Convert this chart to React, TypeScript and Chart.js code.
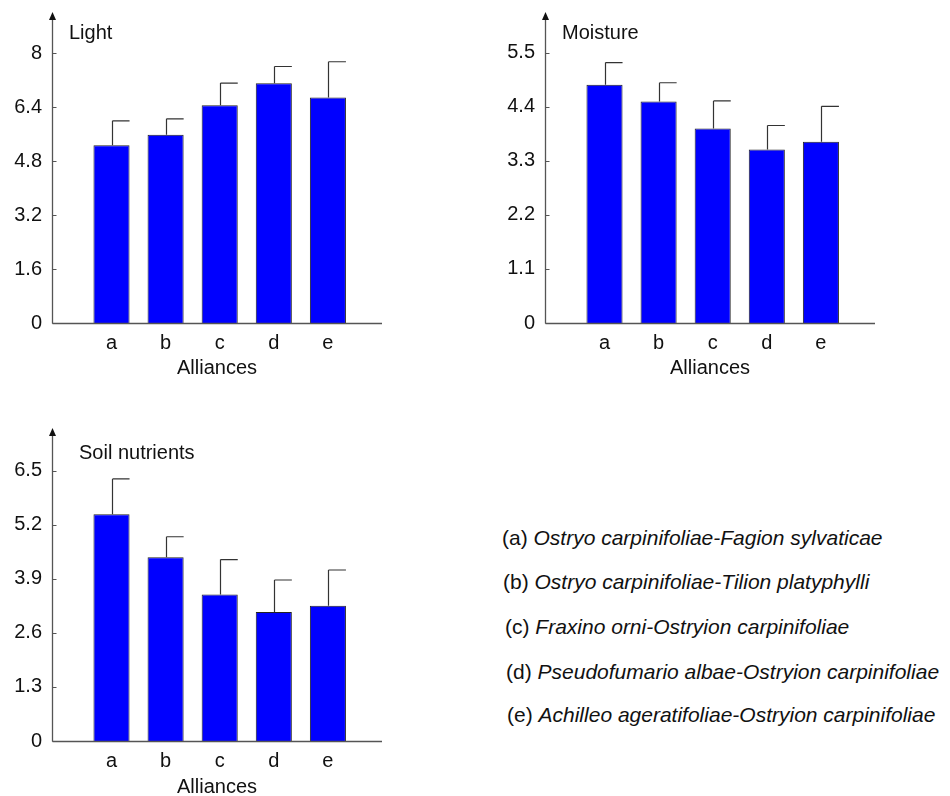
import React, { useEffect, useRef } from 'react';
import { Chart, registerables } from 'chart.js';

Chart.register(...registerables);

// ---------------- Data ----------------
const categories = ['a', 'b', 'c', 'd', 'e'];

const lightMeans = [5.27, 5.58, 6.45, 7.1, 6.68];
const lightSD = [0.72, 0.47, 0.66, 0.5, 1.06];
const lightTicks = [0, 1.6, 3.2, 4.8, 6.4, 8];

const moistureMeans = [4.85, 4.51, 3.96, 3.53, 3.69];
const moistureSD = [0.45, 0.38, 0.56, 0.49, 0.72];
const moistureTicks = [0, 1.1, 2.2, 3.3, 4.4, 5.5];

const soilMeans = [5.45, 4.42, 3.52, 3.1, 3.25];
const soilSD = [0.85, 0.49, 0.84, 0.77, 0.86];
const soilTicks = [0, 1.3, 2.6, 3.9, 5.2, 6.5];

const legendCodes = ['(a)', '(b)', '(c)', '(d)', '(e)'];
const legendNames = [
  'Ostryo carpinifoliae-Fagion sylvaticae',
  'Ostryo carpinifoliae-Tilion platyphylli',
  'Fraxino orni-Ostryion carpinifoliae',
  'Pseudofumario albae-Ostryion carpinifoliae',
  'Achilleo ageratifoliae-Ostryion carpinifoliae',
];

// ---------------- Styles ----------------
const FONT = "'Liberation Sans', Arial, Helvetica, sans-serif";
const TEXT = '#111';
const AXIS = '#555';
const BAR = '#0000ff';

const panelPlugin = {
  id: 'panelDecor',
  afterDatasetsDraw(chart: any, _args: any, opts: any) {
    const ctx = chart.ctx;
    const { left, right, top, bottom } = chart.chartArea;
    const meta = chart.getDatasetMeta(0);
    const y = chart.scales.y;
    ctx.save();
    // error bars (upper, half cap to the right)
    ctx.strokeStyle = '#333';
    ctx.lineWidth = 1.2;
    meta.data.forEach((bar: any, i: number) => {
      const yTop = y.getPixelForValue(opts.means[i] + opts.sds[i]);
      const x = Math.round(bar.x) + 0.5;
      ctx.beginPath();
      ctx.moveTo(x, bar.y);
      ctx.lineTo(x, yTop);
      ctx.moveTo(x, yTop);
      ctx.lineTo(bar.x + bar.width / 2, yTop);
      ctx.stroke();
    });
    // axes
    const lx = Math.round(left) + 0.5;
    const by = Math.round(bottom) + 0.5;
    ctx.strokeStyle = AXIS;
    ctx.lineWidth = 1.3;
    ctx.beginPath();
    ctx.moveTo(lx, by);
    ctx.lineTo(right, by);
    ctx.moveTo(lx, by);
    ctx.lineTo(lx, top + 4);
    ctx.stroke();
    // inward ticks
    ctx.lineWidth = 1;
    y.ticks.forEach((t: any) => {
      const py = Math.round(y.getPixelForValue(t.value)) + 0.5;
      ctx.beginPath();
      ctx.moveTo(lx, py);
      ctx.lineTo(lx + 4, py);
      ctx.stroke();
    });
    // arrow head
    ctx.fillStyle = '#111';
    ctx.beginPath();
    ctx.moveTo(lx, top - 1);
    ctx.lineTo(lx - 3.5, top + 7);
    ctx.lineTo(lx + 3.5, top + 7);
    ctx.closePath();
    ctx.fill();
    // panel title
    ctx.fillStyle = TEXT;
    ctx.font = `20px ${FONT}`;
    ctx.textBaseline = 'middle';
    ctx.textAlign = 'left';
    ctx.fillText(opts.title, left + opts.titleDx, top + opts.titleDy);
    ctx.restore();
  },
};

type PanelProps = {
  left: number;
  top: number;
  width: number;
  height: number;
  title: string;
  titleDx: number;
  titleDy: number;
  means: number[];
  sds: number[];
  yMax: number;
  yTicks: number[];
  xAxisHeight: number;
  xTitlePad: number;
};

function Panel(p: PanelProps) {
  const ref = useRef<HTMLCanvasElement | null>(null);
  useEffect(() => {
    if (!ref.current) return;
    const chart = new Chart(ref.current, {
      type: 'bar',
      data: {
        datasets: [
          {
            data: p.means.map((v, i) => ({ x: i, y: v })),
            backgroundColor: BAR,
            borderColor: '#222',
            borderWidth: 1,
            barPercentage: 0.667,
            categoryPercentage: 1,
          },
        ],
      },
      options: {
        animation: false,
        responsive: false,
        maintainAspectRatio: false,
        devicePixelRatio: 1,
        layout: { padding: { top: 13, right: 18, left: 0, bottom: 0 } },
        plugins: {
          legend: { display: false },
          tooltip: { enabled: false },
          panelDecor: { title: p.title, titleDx: p.titleDx, titleDy: p.titleDy, means: p.means, sds: p.sds },
        } as any,
        scales: {
          x: {
            type: 'linear',
            min: -1.1,
            max: 5.0,
            offset: false,
            grid: { display: false, drawTicks: false },
            border: { display: false },
            afterBuildTicks: (s: any) => {
              s.ticks = categories.map((_, i) => ({ value: i }));
            },
            afterFit: (s: any) => {
              s.height = p.xAxisHeight;
              s.paddingLeft = 0;
              s.paddingRight = 0;
            },
            ticks: {
              padding: 8,
              color: TEXT,
              autoSkip: false,
              maxRotation: 0,
              font: { size: 20, family: FONT },
              callback: (v: any) => categories[v] ?? '',
            },
            title: {
              display: true,
              text: 'Alliances',
              color: TEXT,
              font: { size: 20, family: FONT },
              padding: { top: 0, bottom: p.xTitlePad },
            },
          },
          y: {
            type: 'linear',
            min: 0,
            max: p.yMax,
            grid: { display: false, drawTicks: false },
            border: { display: false },
            afterBuildTicks: (s: any) => {
              s.ticks = p.yTicks.map((v) => ({ value: v }));
            },
            afterFit: (s: any) => {
              s.width = 52;
              s.paddingTop = 0;
              s.paddingBottom = 0;
            },
            ticks: {
              padding: 10,
              color: TEXT,
              font: { size: 20, family: FONT },
              callback: (v: any) => String(v),
            },
          },
        } as any,
      },
      plugins: [panelPlugin],
    });
    return () => chart.destroy();
  }, []);
  return (
    <canvas
      ref={ref}
      width={p.width}
      height={p.height}
      style={{ position: 'absolute', left: p.left, top: p.top, width: p.width, height: p.height }}
    />
  );
}

const legendX = [502, 503, 505, 506, 507];
const legendY = [538, 582, 627, 672, 715];

export default function App() {
  return (
    <div
      style={{
        position: 'absolute',
        left: 0,
        top: 0,
        width: 950,
        height: 796,
        overflow: 'hidden',
        background: '#fff',
        fontFamily: FONT,
        color: TEXT,
      }}
    >
      <Panel
        left={0}
        top={0}
        width={400}
        height={385}
        title="Light"
        titleDx={17}
        titleDy={20}
        means={lightMeans}
        sds={lightSD}
        yMax={9.185}
        yTicks={lightTicks}
        xAxisHeight={62}
        xTitlePad={5}
      />
      <Panel
        left={493}
        top={0}
        width={400}
        height={385}
        title="Moisture"
        titleDx={17}
        titleDy={20}
        means={moistureMeans}
        sds={moistureSD}
        yMax={6.31}
        yTicks={moistureTicks}
        xAxisHeight={62}
        xTitlePad={5}
      />
      <Panel
        left={0}
        top={416}
        width={400}
        height={385}
        title="Soil nutrients"
        titleDx={27}
        titleDy={24}
        means={soilMeans}
        sds={soilSD}
        yMax={7.5}
        yTicks={soilTicks}
        xAxisHeight={60}
        xTitlePad={2}
      />
      {legendCodes.map((c, i) => (
        <div
          key={c}
          style={{
            position: 'absolute',
            left: legendX[i],
            top: legendY[i] - 12,
            height: 24,
            lineHeight: '24px',
            fontSize: 21,
            whiteSpace: 'nowrap',
          }}
        >
          {c} <i>{legendNames[i]}</i>
        </div>
      ))}
    </div>
  );
}
